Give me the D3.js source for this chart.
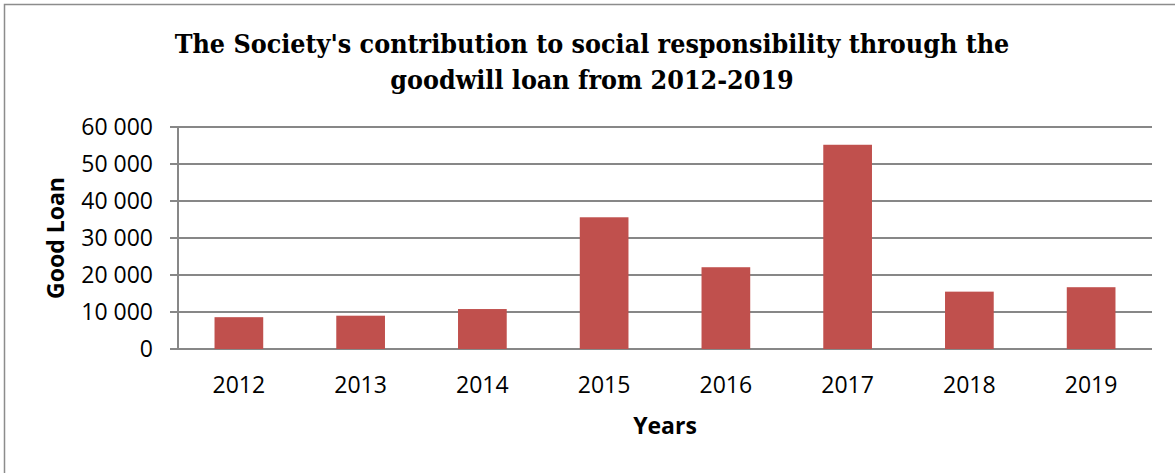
<!DOCTYPE html>
<html>
<head>
<meta charset="utf-8">
<script src="https://cdn.jsdelivr.net/npm/d3@7"></script>
<style>
  body { margin: 0; background: #fff; }
</style>
</head>
<body>
<div id="chart"></div>
<script>
// Data
const years = ["2012", "2013", "2014", "2015", "2016", "2017", "2018", "2019"];
const goodLoan = [8600, 9000, 10800, 35600, 22100, 55200, 15500, 16700];
const yTicks = [0, 10000, 20000, 30000, 40000, 50000, 60000];
const titleLines = [
  "The Society's contribution to social responsibility through the",
  "goodwill loan from 2012-2019"
];

const width = 1175;
const height = 473;
const margin = { top: 127, right: 23, bottom: 124, left: 178 };
const labelFont = "Open Sans, sans-serif";

const svg = d3.select("#chart")
  .append("svg")
  .attr("width", width)
  .attr("height", height);

// outer frame (right and bottom edges fall outside the picture)
svg.append("rect")
  .attr("x", 4.5)
  .attr("y", 4.5)
  .attr("width", width + 10)
  .attr("height", height + 10)
  .attr("fill", "none")
  .attr("stroke", "#8c8c8c")
  .attr("stroke-width", 1.5);

const x = d3.scaleBand()
  .domain(years)
  .range([margin.left, width - margin.right])
  .paddingInner(0.6)
  .paddingOuter(0.3);

const y = d3.scaleLinear()
  .domain([0, 60000])
  .range([height - margin.bottom, margin.top]);

const fmt = d => d3.format(",")(d).replace(/,/g, " ");

// gridlines
svg.append("g")
  .selectAll("line")
  .data(yTicks)
  .enter()
  .append("line")
  .attr("x1", margin.left - 8)
  .attr("x2", width - margin.right)
  .attr("y1", d => y(d))
  .attr("y2", d => y(d))
  .attr("stroke", "#878787")
  .attr("stroke-width", 2);

// y axis line
svg.append("line")
  .attr("x1", margin.left)
  .attr("x2", margin.left)
  .attr("y1", y(60000))
  .attr("y2", y(0))
  .attr("stroke", "#878787")
  .attr("stroke-width", 2);

// y tick labels
svg.append("g")
  .selectAll("text")
  .data(yTicks)
  .enter()
  .append("text")
  .attr("x", margin.left - 25)
  .attr("y", d => y(d))
  .attr("dy", "0.36em")
  .attr("text-anchor", "end")
  .attr("font-family", labelFont)
  .attr("font-size", "23px")
  .attr("fill", "#000")
  .text(fmt);

// bars
svg.append("g")
  .selectAll("rect")
  .data(years)
  .enter()
  .append("rect")
  .attr("x", d => x(d))
  .attr("width", x.bandwidth())
  .attr("y", (d, i) => y(goodLoan[i]))
  .attr("height", (d, i) => y(0) - y(goodLoan[i]))
  .attr("fill", "#c0504d");

// x labels
svg.append("g")
  .selectAll("text")
  .data(years)
  .enter()
  .append("text")
  .attr("x", d => x(d) + x.bandwidth() / 2)
  .attr("y", 393)
  .attr("text-anchor", "middle")
  .attr("font-family", labelFont)
  .attr("font-size", "23px")
  .attr("fill", "#000")
  .text(d => d);

// axis titles
svg.append("text")
  .attr("x", 665)
  .attr("y", 434)
  .attr("text-anchor", "middle")
  .attr("font-family", labelFont)
  .attr("font-weight", "bold")
  .attr("font-size", "23px")
  .text("Years");

svg.append("text")
  .attr("transform", "translate(64, 238) rotate(-90)")
  .attr("text-anchor", "middle")
  .attr("font-family", labelFont)
  .attr("font-weight", "bold")
  .attr("font-size", "23px")
  .text("Good Loan");

// chart title
svg.append("g")
  .selectAll("text")
  .data(titleLines)
  .enter()
  .append("text")
  .attr("x", 592)
  .attr("y", (d, i) => 53 + i * 36)
  .attr("text-anchor", "middle")
  .attr("font-family", "DejaVu Serif Condensed, DejaVu Serif, serif")
  .attr("font-weight", "bold")
  .attr("font-size", "26.6px")
  .attr("fill", "#000")
  .text(d => d);
</script>
</body>
</html>
